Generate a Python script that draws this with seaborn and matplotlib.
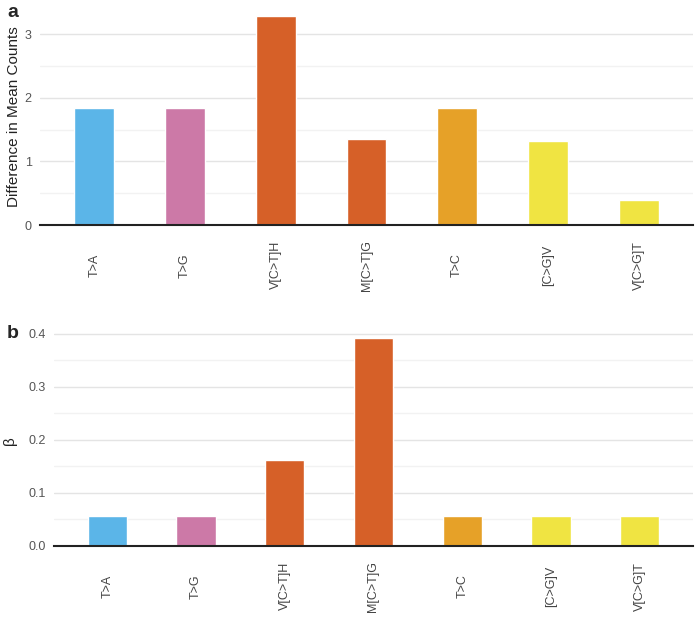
import seaborn as sns
import matplotlib.pyplot as plt
import pandas as pd
from matplotlib.ticker import MultipleLocator, FormatStrFormatter

# data
categories = ["T>A", "T>G", "V[C>T]H", "M[C>T]G", "T>C", "[C>G]V", "V[C>G]T"]
diff_counts = [1.84, 1.84, 3.28, 1.35, 1.84, 1.32, 0.40]
beta = [0.057, 0.057, 0.162, 0.393, 0.057, 0.057, 0.057]
colors = ["#5BB5E8", "#CC79A7", "#D66028", "#D66028", "#E6A128", "#F0E442", "#F0E442"]

df = pd.DataFrame({"cat": categories, "diff": diff_counts, "beta": beta})
palette = dict(zip(categories, colors))

sns.set_theme(style="white")
plt.rcParams["font.family"] = ["Liberation Sans", "DejaVu Sans"]

fig = plt.figure(figsize=(7, 6.2), dpi=100)
ax1 = fig.add_axes([40/700, (620-225)/620, 653/700, 217/620])
ax2 = fig.add_axes([54/700, (620-546)/620, 639/700, 228/620])


def style(ax, step, ylim, fmt):
    ax.set_xlim(-0.6, 6.6)
    ax.set_ylim(*ylim)
    ax.yaxis.set_major_locator(MultipleLocator(step))
    ax.yaxis.set_minor_locator(MultipleLocator(step / 2))
    ax.yaxis.set_major_formatter(FormatStrFormatter(fmt))
    ax.set_axisbelow(True)
    ax.grid(axis="y", which="major", color="#e4e4e4", linewidth=1)
    ax.grid(axis="y", which="minor", color="#f2f2f2", linewidth=1)
    ax.grid(axis="x", visible=False)
    for s in ["top", "right", "left"]:
        ax.spines[s].set_visible(False)
    ax.spines["bottom"].set_color("#222222")
    ax.spines["bottom"].set_linewidth(1.5)
    ax.tick_params(axis="y", which="both", length=0, pad=6, labelsize=9, labelcolor="#555555")
    ax.tick_params(axis="x", length=0, pad=29, labelsize=9, labelcolor="#444444")
    for lab in ax.get_xticklabels():
        lab.set_rotation(90)
        lab.set_va("center")
        lab.set_ha("center")
    ax.set_xlabel("")


sns.barplot(data=df, x="cat", y="diff", hue="cat", palette=palette, width=0.44,
            legend=False, saturation=1, ax=ax1)
style(ax1, 1, (0, 3.41), "%g")
ax1.set_ylabel("Difference in Mean Counts", fontsize=11, color="#222222")
ax1.yaxis.set_label_coords(-0.029, 0.5)

sns.barplot(data=df, x="cat", y="beta", hue="cat", palette=palette, width=0.44,
            legend=False, saturation=1, ax=ax2)
style(ax2, 0.1, (0, 0.43), "%.1f")
ax2.set_ylabel("β", fontsize=11, color="#222222")
ax2.yaxis.set_label_coords(-0.058, 0.46)

fig.text(7/700, 1 - 4/620, "a", fontsize=14, fontweight="bold", va="top")
fig.text(7/700, 1 - 325/620, "b", fontsize=14, fontweight="bold", va="top")

fig.savefig("out.png", dpi=100)
